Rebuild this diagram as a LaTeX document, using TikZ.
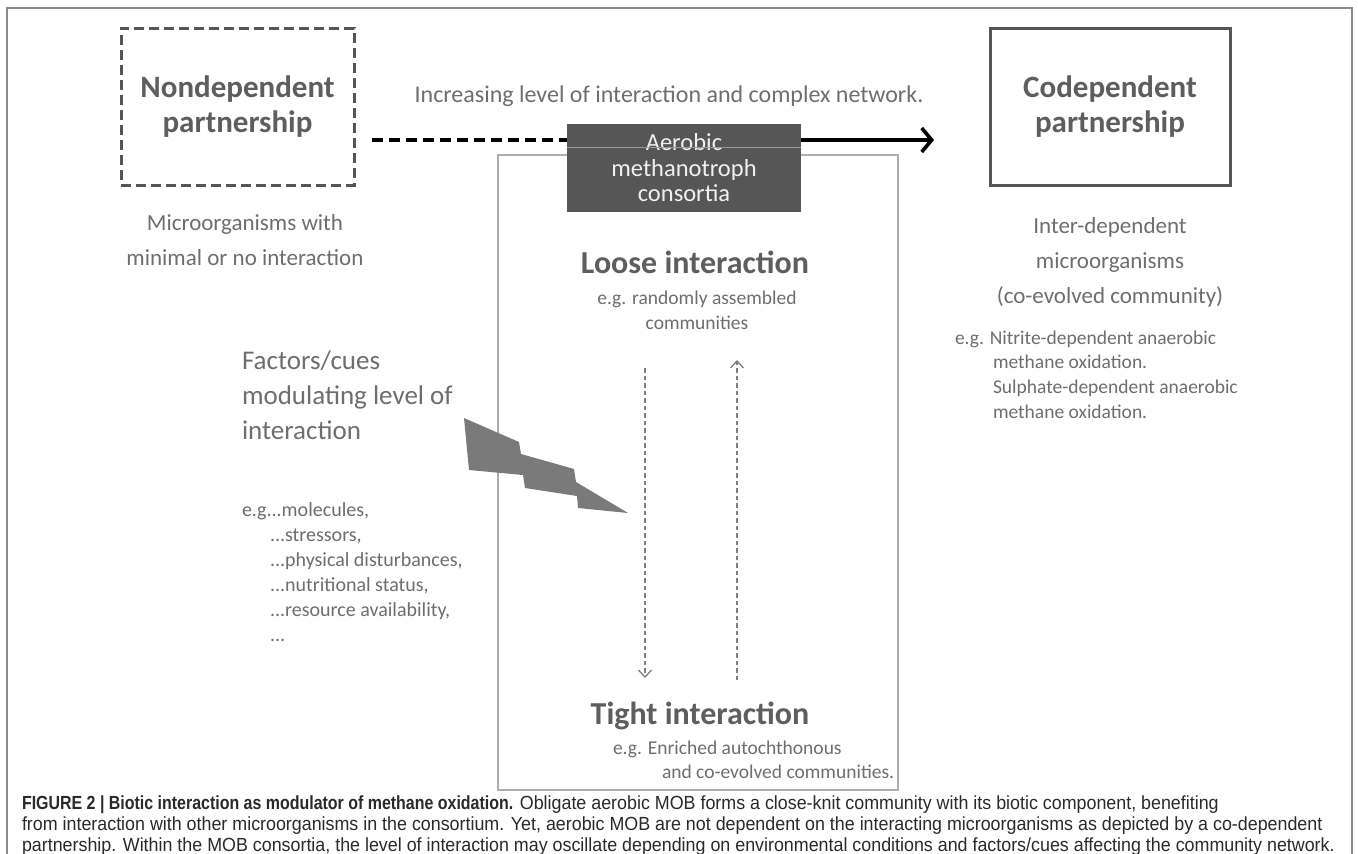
\documentclass[tikz,border=0pt]{standalone}
\usepackage{fontspec}
\setmainfont{Carlito}
\newfontfamily\capfont[FakeStretch=0.94, BoldFeatures={FakeStretch=0.84}]{Liberation Sans}
\usetikzlibrary{arrows.meta}

\definecolor{txtgray}{HTML}{6E6E6E}
\definecolor{headgray}{HTML}{5E5E5E}
\definecolor{boxline}{HTML}{555555}
\definecolor{lightline}{HTML}{ADADAD}
\definecolor{darkfill}{HTML}{565656}
\definecolor{boltfill}{HTML}{7A7A7A}
\definecolor{framegray}{HTML}{8A8A8A}
\definecolor{capgray}{HTML}{2A2A2A}

\begin{document}
\begin{tikzpicture}[x=1pt,y=-1pt,
  every node/.style={inner sep=0pt, outer sep=0pt},
  body/.style={text=txtgray, align=center, font=\fontsize{23}{35}\selectfont},
  small/.style={text=txtgray, font=\fontsize{19.5}{24.6}\selectfont},
  heading/.style={text=headgray, align=center, font=\bfseries\fontsize{31}{35}\selectfont},
  bigheading/.style={text=headgray, align=center, font=\bfseries\fontsize{32}{35}\selectfont},
  partner/.style={draw=boxline, line width=3pt, minimum width=233pt, minimum height=157pt},
  trend/.style={line width=3.6pt, draw=black},
  swing/.style={draw=gray, line width=1.3pt, dash pattern=on 4.5pt off 3pt,
                -{Straight Barb[length=7pt,width=13pt,line width=1.3pt]}},
  caption/.style={anchor=west, text=capgray, font=\capfont\fontsize{19}{21}\selectfont}]

\useasboundingbox (0,0) rectangle (1358,854);
\fill[white] (0,0) rectangle (1358,854);

% outer frame, open at the bottom
\draw[framegray, line width=1.2pt] (7,854) -- (7,8) -- (1352,8) -- (1352,854);

% the two kinds of partnership
\node[partner, dash pattern=on 10pt off 5pt, heading] (nondep) at (237.5,106.5)
  {Nondependent\\partnership};
\node[partner, minimum width=240pt, heading] (codep) at (1110,106.5)
  {Codependent\\partnership};

\node[body] (nondeptxt) at (245,240.5) {Microorganisms with\\minimal or no interaction};
\node[body] (codeptxt) at (1110,262) {Inter-dependent\\microorganisms\\(co-evolved community)};
\node[small, align=left, anchor=west] (codepeg) at (955,374.5)
  {e.g. Nitrite-dependent anaerobic\\
   \hspace*{38pt}methane oxidation.\\
   \hspace*{38pt}Sulphate-dependent anaerobic\\
   \hspace*{38pt}methane oxidation.};

% trend arrow between the partnerships
\node[body, font=\fontsize{24}{30}\selectfont] (trendtxt) at (669,96)
  {Increasing level of interaction and complex network.};
\coordinate (t0) at (372,140);
\coordinate (tm) at (700,140);
\coordinate (t1) at (934,140);
\draw[trend, dash pattern=on 11pt off 6pt] (t0) -- (tm);
\draw[trend, -{Straight Barb[length=10pt,width=24pt,line width=3.6pt]}] (tm) -- (t1);

% consortium frame with its label tab
\node[draw=lightline, line width=1.3pt, minimum width=400pt, minimum height=635pt] (consort) at (698,472.5) {};
\node[fill=darkfill, minimum width=234pt, minimum height=88pt, text=white!94!black,
      align=center, font=\fontsize{24.5}{25.5}\selectfont] (tab) at (684,168)
  {Aerobic\\methanotroph\\consortia};
\draw[gray!80, line width=0.6pt] ([yshift=21pt]tab.west) -- ([yshift=21pt]tab.east);

\node[bigheading] (loose) at (695,262) {Loose interaction};
\node[small, align=center] (looseeg) at (697,310) {e.g. randomly assembled\\communities};

\node[bigheading] (tight) at (700,716) {Tight interaction};
\node[small, anchor=west] (tighteg1) at (613,749) {e.g. Enriched autochthonous};
\node[small, anchor=west] (tighteg2) at (662,772) {and co-evolved communities.};

% oscillation between loose and tight
\coordinate (dtop) at (645,368);
\coordinate (dbot) at (645,678);
\coordinate (utop) at (737,360);
\coordinate (ubot) at (737,680);
\draw[swing] (dtop) -- (dbot);
\draw[swing] (ubot) -- (utop);

% modulating factors
\node[text=txtgray, align=left, anchor=west, font=\fontsize{27}{35}\selectfont] (factors) at (242,395)
  {Factors/cues\\modulating level of\\interaction};
\node[small, font=\fontsize{20}{25}\selectfont, align=left, anchor=west] (factoreg) at (242,572.5)
  {e.g...molecules,\\
   \hspace*{28pt}...stressors,\\
   \hspace*{28pt}...physical disturbances,\\
   \hspace*{28pt}...nutritional status,\\
   \hspace*{28pt}...resource availability,\\
   \hspace*{28pt}...};

% lightning bolt
\fill[boltfill] (464,418) -- (519,442) -- (521,454) -- (574,469) -- (576,482)
  -- (628,513) -- (578,508) -- (577,496) -- (525,488) -- (523,475) -- (469,470) -- cycle;

% caption
\node[caption] (cap1) at (22,805)
  {\textbf{FIGURE 2 | Biotic interaction as modulator of methane oxidation.} Obligate aerobic MOB forms a close-knit community with its biotic component, benefiting};
\node[caption] (cap2) at (22,826)
  {from interaction with other microorganisms in the consortium. Yet, aerobic MOB are not dependent on the interacting microorganisms as depicted by a co-dependent};
\node[caption] (cap3) at (22,847)
  {partnership. Within the MOB consortia, the level of interaction may oscillate depending on environmental conditions and factors/cues affecting the community network.};
\end{tikzpicture}
\end{document}
